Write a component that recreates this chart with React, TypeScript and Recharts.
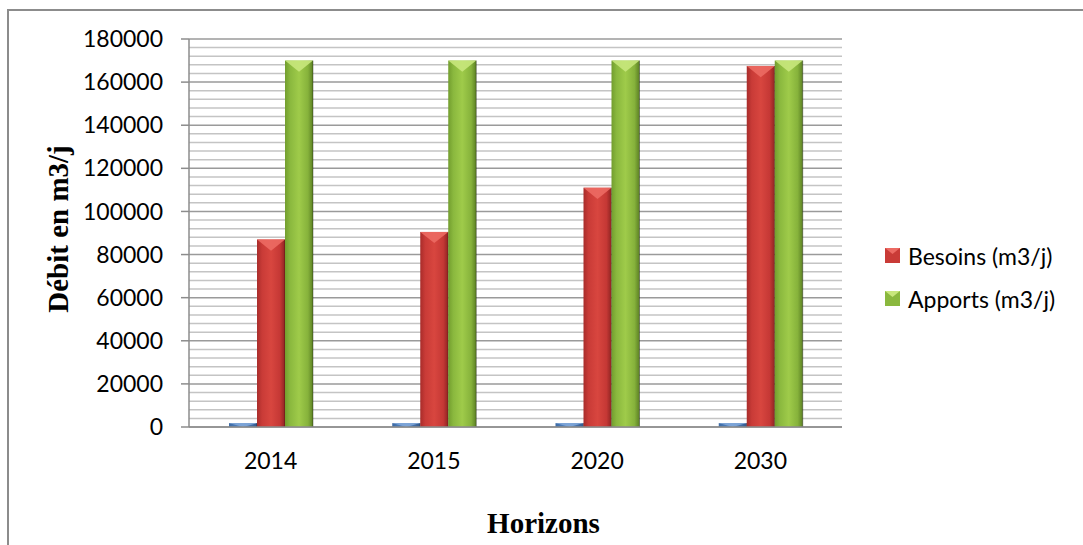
import React from 'react'
import { BarChart, Bar, XAxis, YAxis, CartesianGrid, Legend, Label } from 'recharts'

const horizons = ['2014', '2015', '2020', '2030']
const serie1 = [1800, 1800, 1800, 1800]
const besoins = [87000, 90500, 111000, 167500]
const apports = [170000, 170000, 170000, 170000]
const yTicks = [0, 20000, 40000, 60000, 80000, 100000, 120000, 140000, 160000, 180000]

const data = horizons.map((h, i) => ({
    horizon: h,
    serie1: serie1[i],
    besoins: besoins[i],
    apports: apports[i],
}))

// minor grid every 4000 between the major ticks
const minorTicks: number[] = []
for (let v = 4000; v < 180000; v += 4000) {
    if (v % 20000 !== 0) minorTicks.push(v)
}

const tops: Record<string, string> = {
    serie1: '#7fa6d8',
    besoins: '#ec6a63',
    apports: '#c8e77c',
}

const BevelBar = (props: any) => {
    const { x, y, width, height, fill, dataKey } = props
    if (!height || height <= 0) return null
    const depth = Math.min(width * 0.4, height)
    return (
        <g>
            <rect x={x} y={y} width={width} height={height} fill={fill} />
            <polygon
                points={`${x},${y} ${x + width},${y} ${x + width / 2},${y + depth}`}
                fill={tops[dataKey]}
                opacity={0.9}
            />
            <line x1={x + width} y1={y} x2={x + width} y2={y + height} stroke="rgba(0,0,0,0.35)" strokeWidth={1} />
        </g>
    )
}

const legendOrder = ['besoins', 'apports']
const legendColors: Record<string, [string, string]> = {
    besoins: ['#c93b37', '#ec6a63'],
    apports: ['#8ab83e', '#c8e77c'],
}

const renderLegend = (props: any) => {
    const items = (props.payload || [])
        .filter((p: any) => legendColors[p.dataKey])
        .sort((a: any, b: any) => legendOrder.indexOf(a.dataKey) - legendOrder.indexOf(b.dataKey))
    return (
        <div>
            {items.map((entry: any) => {
                const [base, top] = legendColors[entry.dataKey]
                return (
                    <div
                        key={entry.dataKey}
                        style={{
                            display: 'flex',
                            alignItems: 'center',
                            height: 43,
                            fontFamily: 'Lato',
                            fontSize: 23,
                            color: '#000',
                        }}
                    >
                        <svg width={15} height={15}>
                            <rect x={0} y={0} width={15} height={15} fill={base} />
                            <polygon points="0,0 15,0 7.5,6" fill={top} />
                        </svg>
                        <span style={{ marginLeft: 8 }}>{entry.value}</span>
                    </div>
                )
            })}
        </div>
    )
}

export default function App() {
    return (
        <div style={{ position: 'absolute', left: 0, top: 0, width: 1083, height: 545, background: '#fff', overflow: 'hidden' }}>
            <div
                style={{
                    position: 'absolute',
                    left: 7,
                    top: 9,
                    width: 1100,
                    height: 560,
                    borderLeft: '2px solid #8c8c8c',
                    borderTop: '2px solid #8c8c8c',
                }}
            />
            <div style={{ position: 'absolute', left: 0, top: 0 }}>
                <BarChart
                    width={1083}
                    height={545}
                    data={data}
                    margin={{ top: 39, right: 241, bottom: 88, left: 0 }}
                    barGap={0}
                    barSize={28}
                >
                    <defs>
                        <linearGradient id="gBlue" x1="0" y1="0" x2="1" y2="0">
                            <stop offset="0%" stopColor="#3d6aa3" />
                            <stop offset="50%" stopColor="#5b8fd0" />
                            <stop offset="100%" stopColor="#34598a" />
                        </linearGradient>
                        <linearGradient id="gRed" x1="0" y1="0" x2="1" y2="0">
                            <stop offset="0%" stopColor="#a82c2a" />
                            <stop offset="18%" stopColor="#c93b37" />
                            <stop offset="50%" stopColor="#d8463f" />
                            <stop offset="82%" stopColor="#c53835" />
                            <stop offset="100%" stopColor="#8e2422" />
                        </linearGradient>
                        <linearGradient id="gGreen" x1="0" y1="0" x2="1" y2="0">
                            <stop offset="0%" stopColor="#729d2e" />
                            <stop offset="18%" stopColor="#8ab83e" />
                            <stop offset="50%" stopColor="#9fcb4a" />
                            <stop offset="82%" stopColor="#86b23b" />
                            <stop offset="100%" stopColor="#5c8024" />
                        </linearGradient>
                    </defs>
                    <CartesianGrid
                        horizontalValues={minorTicks}
                        vertical={false}
                        stroke="#c4c4c4"
                        strokeWidth={1.5}
                    />
                    <CartesianGrid
                        horizontalValues={yTicks}
                        vertical={false}
                        stroke="#9a9a9a"
                        strokeWidth={1.5}
                    />
                    <XAxis
                        dataKey="horizon"
                        tickSize={0}
                        tickMargin={26}
                        height={30}
                        axisLine={{ stroke: '#8c8c8c', strokeWidth: 1.5 }}
                        tick={{ fontFamily: 'Lato', fontSize: 23, fill: '#000' }}
                    >
                        <Label
                            content={(p: any) => {
                                const vb = p.viewBox
                                return (
                                    <text
                                        x={vb.x + vb.width / 2 + 28}
                                        y={vb.y + 106}
                                        textAnchor="middle"
                                        fontFamily="Liberation Serif"
                                        fontWeight="bold"
                                        fontSize={29}
                                        fill="#000"
                                    >
                                        Horizons
                                    </text>
                                )
                            }}
                        />
                    </XAxis>
                    <YAxis
                        width={189}
                        domain={[0, 180000]}
                        ticks={yTicks}
                        interval={0}
                        tickSize={8}
                        tickMargin={18}
                        axisLine={{ stroke: '#8c8c8c', strokeWidth: 1.5 }}
                        tickLine={{ stroke: '#8c8c8c', strokeWidth: 1.5 }}
                        tick={{ fontFamily: 'Lato', fontSize: 23, fill: '#000' }}
                    >
                        <Label
                            content={(p: any) => {
                                const vb = p.viewBox
                                const cx = vb.x + 58
                                const cy = vb.y + vb.height / 2 - 4
                                return (
                                    <text
                                        x={cx}
                                        y={cy}
                                        transform={`rotate(-90 ${cx} ${cy})`}
                                        textAnchor="middle"
                                        dominantBaseline="central"
                                        fontFamily="Liberation Serif"
                                        fontWeight="bold"
                                        fontSize={29}
                                        fill="#000"
                                    >
                                        Débit en m3/j
                                    </text>
                                )
                            }}
                        />
                    </YAxis>
                    <Legend
                        layout="vertical"
                        align="center"
                        verticalAlign="middle"
                        content={renderLegend}
                        wrapperStyle={{ left: 885, top: 234, width: 200 }}
                    />
                    <Bar dataKey="serie1" name="Série1" fill="url(#gBlue)" legendType="none" shape={BevelBar} isAnimationActive={false} />
                    <Bar dataKey="besoins" name="Besoins (m3/j)" fill="url(#gRed)" shape={BevelBar} isAnimationActive={false} />
                    <Bar dataKey="apports" name="Apports (m3/j)" fill="url(#gGreen)" shape={BevelBar} isAnimationActive={false} />
                </BarChart>
            </div>
        </div>
    )
}
